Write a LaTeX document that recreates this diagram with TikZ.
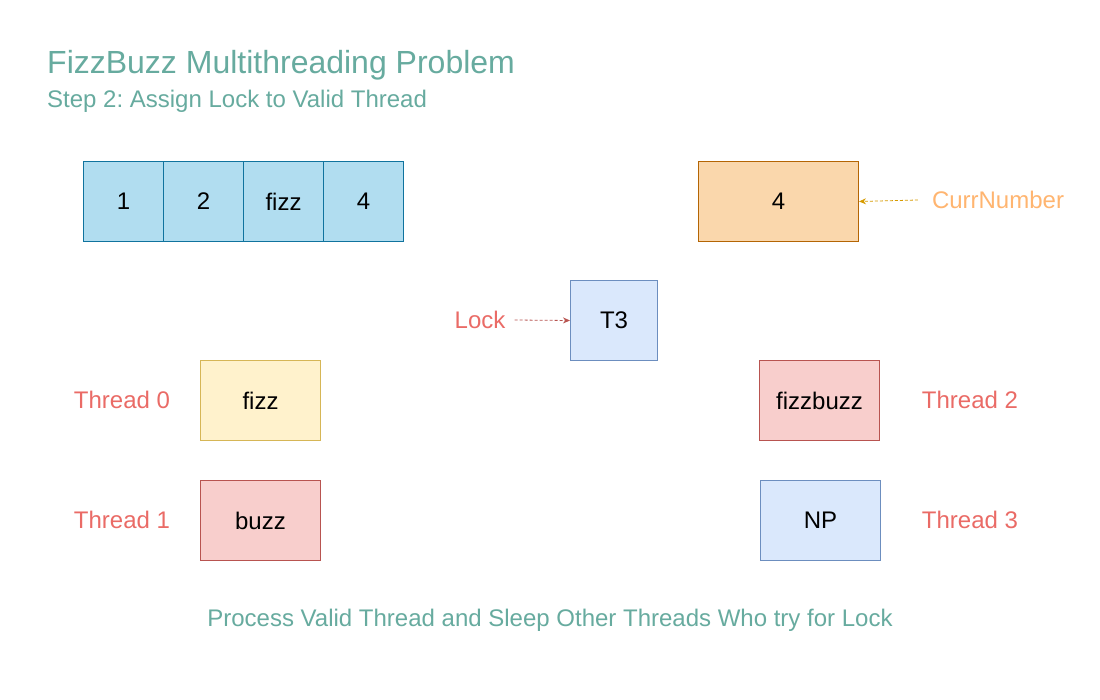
\documentclass[tikz,border=0pt]{standalone}
\usepackage{fontspec}
\setmainfont{Liberation Sans}
\usetikzlibrary{arrows.meta}
\frenchspacing
\definecolor{titlegreen}{HTML}{67AB9F}
\definecolor{labelred}{HTML}{EA6B66}
\definecolor{curorange}{HTML}{FFB570}
\definecolor{bluefill}{HTML}{B1DDF0}
\definecolor{bluestroke}{HTML}{10739E}
\definecolor{orfill}{HTML}{FAD7AC}
\definecolor{orstroke}{HTML}{B46504}
\definecolor{lbfill}{HTML}{DAE8FC}
\definecolor{lbstroke}{HTML}{6C8EBF}
\definecolor{yfill}{HTML}{FFF2CC}
\definecolor{ystroke}{HTML}{D6B656}
\definecolor{rfill}{HTML}{F8CECC}
\definecolor{rstroke}{HTML}{B85450}
\definecolor{amber}{HTML}{D79B00}
\tikzset{
  cell/.style={draw, line width=1pt, minimum width=80pt, minimum height=80pt, inner sep=0pt, anchor=north west, font=\fontsize{24}{28}\selectfont},
  wbox/.style={cell, minimum width=120pt},
  lbl/.style={text=labelred, font=\fontsize{24}{28}\selectfont, inner sep=0pt},
  dasharrow/.style={dashed, dash pattern=on 3pt off 2pt, line width=0.8pt, -{Stealth[length=7pt,width=6pt]}},
}
\begin{document}
\begin{tikzpicture}[x=1pt,y=-1pt]
\useasboundingbox[fill=white] (0,0) rectangle (1100,700);
\node[anchor=west, text=titlegreen, font=\fontsize{32}{38}\selectfont, inner sep=0pt] (title) at (47,65) {FizzBuzz Multithreading Problem};
\node[anchor=west, text=titlegreen, font=\fontsize{24}{28}\selectfont, inner sep=0pt] (sub) at (47,101) {Step 2: Assign Lock to Valid Thread};
% array
\node[cell, fill=bluefill, draw=bluestroke] (a1) at (83,161) {1};
\node[cell, fill=bluefill, draw=bluestroke] (a2) at (163,161) {2};
\node[cell, fill=bluefill, draw=bluestroke] (a3) at (243,161) {fizz};
\node[cell, fill=bluefill, draw=bluestroke] (a4) at (323,161) {4};
% curr number
\node[cell, minimum width=160pt, fill=orfill, draw=orstroke] (cur) at (698,161) {4};
\node[text=curorange, font=\fontsize{24}{28}\selectfont, inner sep=0pt] (curl) at (998,200) {CurrNumber};
\draw[dasharrow, amber] (curl.west) ++(-14,0) coordinate (cs) -- (cur.east);
% lock
\node[cell, minimum width=87pt, fill=lbfill, draw=lbstroke] (t3) at (570,280) {T3};
\node[lbl] (lock) at (480,320) {Lock};
\draw[dasharrow, rstroke] (lock.east) ++(9,0) coordinate (ls) -- (t3.west);
% threads
\node[wbox, fill=yfill, draw=ystroke] (fizz) at (200,360) {fizz};
\node[wbox, fill=rfill, draw=rstroke] (buzz) at (200,480) {buzz};
\node[wbox, fill=rfill, draw=rstroke] (fb) at (759,360) {fizzbuzz};
\node[wbox, fill=lbfill, draw=lbstroke] (np) at (760,480) {NP};
\node[lbl] (th0) at (122,400) {Thread 0};
\node[lbl] (th1) at (122,520) {Thread 1};
\node[lbl] (th2) at (970,400) {Thread 2};
\node[lbl] (th3) at (970,520) {Thread 3};
\node[text=titlegreen, font=\fontsize{24}{28}\selectfont, inner sep=0pt] (foot) at (550,620) {Process Valid Thread and Sleep Other Threads Who try for Lock};
\end{tikzpicture}
\end{document}
